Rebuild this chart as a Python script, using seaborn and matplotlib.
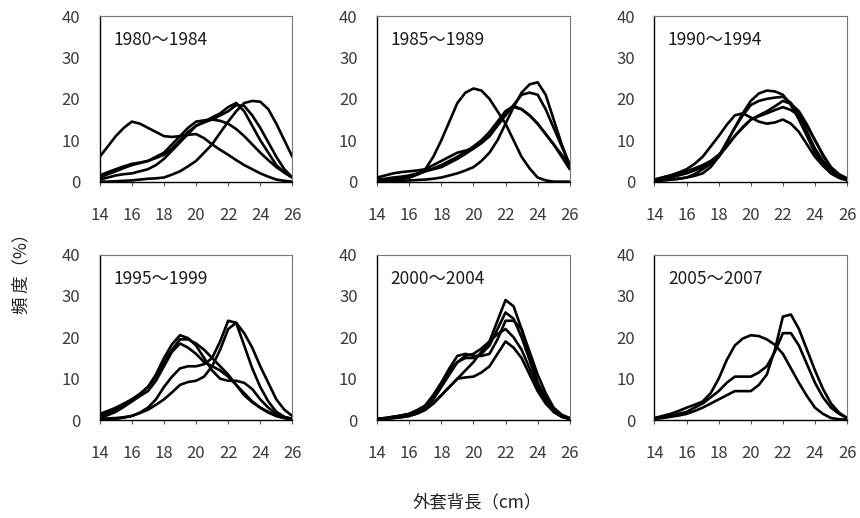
import numpy as np
import pandas as pd
import matplotlib
matplotlib.use('Agg')
import matplotlib.pyplot as plt
import seaborn as sns

# mantle length classes (cm), 0.5 cm step
lengths = [14, 14.5, 15, 15.5, 16, 16.5, 17, 17.5, 18, 18.5, 19, 19.5, 20,
           20.5, 21, 21.5, 22, 22.5, 23, 23.5, 24, 24.5, 25, 25.5, 26]

periods = ['1980～1984', '1985～1989', '1990～1994',
           '1995～1999', '2000～2004', '2005～2007']

# frequency (%) per year
p1980 = [
    [6, 8.5, 11, 13, 14.5, 14, 13, 12, 11, 10.8, 11, 11.3, 11.5, 10.5, 9, 7.7, 6.5, 5.2, 4, 3, 2, 1.2, 0.5, 0.2, 0],
    [0, 0, 0.1, 0.2, 0.3, 0.5, 0.7, 0.8, 1, 1.7, 2.5, 3.7, 5, 7, 9, 11.8, 14.5, 17, 19, 19.5, 19.3, 17.5, 14, 10, 6],
    [1, 1.8, 2.5, 3.3, 4, 4.5, 5, 5.7, 6.5, 8, 10, 12, 13.5, 14.5, 15.5, 16.5, 18, 19, 17, 13.5, 10, 7, 4, 2.2, 1],
    [0.5, 1, 1.5, 1.8, 2, 2.5, 3, 4, 5.5, 7.5, 9.5, 11.5, 13.5, 14.3, 15, 16, 17, 18.5, 18.3, 16, 13, 9.5, 6, 3, 1],
    [1.5, 2.3, 3, 3.7, 4.3, 4.6, 5, 6, 7, 9, 11, 13, 14.5, 14.8, 15, 14.7, 14, 12.7, 11, 9, 7, 5.2, 3.5, 2.2, 1],
]
p1985 = [
    [0.3, 0.4, 0.5, 0.7, 1, 1.8, 3, 6, 10, 14.5, 19, 21.5, 22.5, 22, 20, 17, 14, 10, 6, 3.2, 1, 0.3, 0, 0, 0],
    [0, 0.1, 0.2, 0.2, 0.3, 0.4, 0.5, 0.7, 1, 1.5, 2, 2.7, 3.5, 5, 7, 10, 14, 18, 21.5, 23.5, 24, 21, 15, 9, 4],
    [0.5, 0.7, 1, 1.2, 1.5, 2, 2.5, 3, 3.5, 4.5, 5.5, 6.7, 8, 9.5, 11, 13.5, 16, 18.5, 21, 21.5, 21, 17.5, 13, 8.5, 4],
    [1, 1.5, 2, 2.3, 2.5, 2.7, 3, 4, 5, 6, 7, 7.5, 8, 9.3, 11, 14, 17, 18, 17.5, 16, 14, 11.5, 9, 6.5, 4],
    [0.3, 0.4, 0.5, 0.7, 1, 1.7, 2.5, 3.2, 4, 5, 6, 7.2, 8.5, 10, 12, 14.5, 17, 18.3, 17.5, 16, 14, 11.5, 9, 6, 3],
]
p1990 = [
    [0.5, 1, 1.5, 2.2, 3, 4.3, 6, 8.5, 11, 13.7, 16, 16.5, 15.5, 14.5, 14, 14.3, 15, 14, 12, 9, 6, 3.8, 2, 1, 0.5],
    [0.2, 0.3, 0.5, 0.7, 1, 1.4, 2, 3.5, 6, 9.5, 13, 16.5, 19.5, 21.3, 22, 21.8, 21, 18.5, 15, 11, 7, 4.3, 2, 0.9, 0.3],
    [0.2, 0.3, 0.5, 0.7, 1, 1.8, 3, 4.3, 6, 9.5, 13, 16, 18.5, 19.5, 20, 20.3, 20.5, 19, 16, 12, 8, 5, 2.5, 1.3, 0.5],
    [0.3, 0.6, 1, 1.5, 2, 2.7, 3.5, 4.5, 6, 8.5, 11, 13, 15, 16, 17, 18.2, 19.5, 18.8, 17, 13.8, 10, 6.3, 3, 1.5, 0.5],
    [0.5, 1, 1.5, 2, 2.5, 3.2, 4, 5, 6.5, 8.5, 11, 13.2, 15, 15.8, 16.5, 17.3, 18, 17.3, 16, 13.3, 10, 6.5, 3.5, 1.8, 0.8],
]
p1995 = [
    [1.5, 2.2, 3, 4, 5, 6.3, 8, 11, 15, 18.3, 20.5, 19.8, 18, 15, 12, 10, 9.5, 9.5, 9, 7.5, 5, 3, 1.5, 0.7, 0.3],
    [1, 1.7, 2.5, 3.7, 5, 6.3, 8, 10.5, 14, 17, 19.5, 19.5, 18.5, 17, 15, 13, 11, 8.5, 6, 4.3, 3, 2, 1, 0.5, 0.2],
    [0.5, 1.2, 2, 3.2, 4.5, 5.8, 7, 9.5, 13, 16.5, 18.5, 17.5, 16, 14, 13, 12, 10.5, 8.5, 6.5, 4.5, 3, 1.8, 1, 0.5, 0.2],
    [0.3, 0.4, 0.5, 0.7, 1, 1.8, 3, 5, 8, 10.5, 12.5, 13, 13, 13.5, 15, 19, 24, 23.5, 18, 12.5, 8, 4.5, 2, 0.8, 0.3],
    [0, 0.1, 0.3, 0.6, 1, 1.7, 2.5, 3.7, 5, 6.7, 8.5, 9.2, 9.5, 10.5, 13, 17, 22, 23.5, 21, 17.5, 13, 9, 5, 2.5, 1],
]
p2000 = [
    [0.3, 0.4, 0.5, 0.7, 1, 1.6, 2.5, 4, 6, 8, 10, 12, 14, 16.5, 19, 24, 29, 27.5, 22, 15.5, 9, 5, 2, 0.8, 0.3],
    [0.3, 0.5, 0.8, 1.1, 1.5, 2.2, 3, 5, 8, 11, 14, 15, 15, 16, 18, 22, 26, 24.5, 20, 14.5, 9, 5.5, 2.5, 1, 0.4],
    [0.3, 0.4, 0.6, 1, 1.5, 2.4, 3.5, 6, 9, 12.5, 15.5, 16, 15.5, 15.5, 16, 19.5, 24, 24, 22, 16.5, 11, 6.5, 3, 1.3, 0.5],
    [0.3, 0.5, 0.8, 1.1, 1.5, 2.4, 3.5, 6, 9, 12, 14, 15.5, 16, 17.3, 19, 20.8, 22, 20, 17, 12.5, 8, 4.5, 2, 0.9, 0.4],
    [0.2, 0.3, 0.5, 0.7, 1, 1.6, 2.5, 4, 6, 8, 10, 10.3, 10.5, 11.5, 13, 16, 19, 17.5, 15, 11, 7, 4, 2, 0.8, 0.3],
]
p2005 = [
    [0.5, 1, 1.5, 2.2, 3, 3.7, 4.5, 6.5, 10, 14.5, 18, 19.7, 20.5, 20.3, 19.5, 18.2, 16, 12.5, 9, 5.8, 3, 1.5, 0.5, 0.2, 0.1],
    [0.3, 0.5, 0.8, 1.1, 1.5, 2.2, 3, 4, 5, 6, 7, 7, 7, 8.5, 11, 17, 25, 25.5, 22, 17, 12, 7.5, 4, 1.8, 0.5],
    [0.5, 0.7, 1, 1.5, 2, 3, 4, 5.5, 7, 9, 10.5, 10.5, 10.5, 11.5, 13, 16.5, 21, 21, 18, 13.5, 9, 5.5, 3, 1.5, 0.5],
]
panels = [p1980, p1985, p1990, p1995, p2000, p2005]

sns.set_style('white')
plt.rcParams['font.family'] = ['Noto Sans CJK JP', 'DejaVu Sans']

fig, axes = plt.subplots(2, 3, figsize=(8.6, 5.18), dpi=100)
fig.subplots_adjust(left=0.116, right=0.985, top=0.969, bottom=0.189,
                    wspace=0.44, hspace=0.44)

for ax, label, curves in zip(axes.flat, periods, panels):
    # one line per year
    rows = []
    for i, c in enumerate(curves):
        for x, y in zip(lengths, c):
            rows.append({'length': x, 'freq': y, 'year': i})
    d = pd.DataFrame(rows)
    sns.lineplot(data=d, x='length', y='freq', units='year', estimator=None,
                 color='black', linewidth=1.9, solid_joinstyle='round',
                 solid_capstyle='round', ax=ax, clip_on=True)
    ax.set_xlim(14, 26)
    ax.set_ylim(0, 40)
    ax.set_xticks(range(14, 27, 2))
    ax.set_yticks(range(0, 41, 10))
    ax.set_xlabel('')
    ax.set_ylabel('')
    ax.tick_params(axis='x', direction='out', length=3, pad=15,
                   labelsize=12, labelcolor='#3a3a3a', color='#555555', bottom=True)
    ax.tick_params(axis='y', direction='out', length=0, pad=14,
                   labelsize=12, labelcolor='#3a3a3a', left=True)
    for s in ['left', 'bottom']:
        ax.spines[s].set_color('black')
        ax.spines[s].set_linewidth(1.0)
    for s in ['top', 'right']:
        ax.spines[s].set_color('#777777')
        ax.spines[s].set_linewidth(0.8)
    ax.text(0.07, 0.855, label, transform=ax.transAxes, fontsize=12.5,
            color='#1a1a1a', va='center', ha='left')

fig.text(0.025, 0.48, '頻 度（%）', rotation=90, fontsize=12.5,
         color='#222222', va='center', ha='center')
fig.text(0.555, 0.03, '外套背長（cm）', fontsize=12.5, color='#222222',
         va='center', ha='center')

plt.savefig('out.png', dpi=100)
plt.close()
